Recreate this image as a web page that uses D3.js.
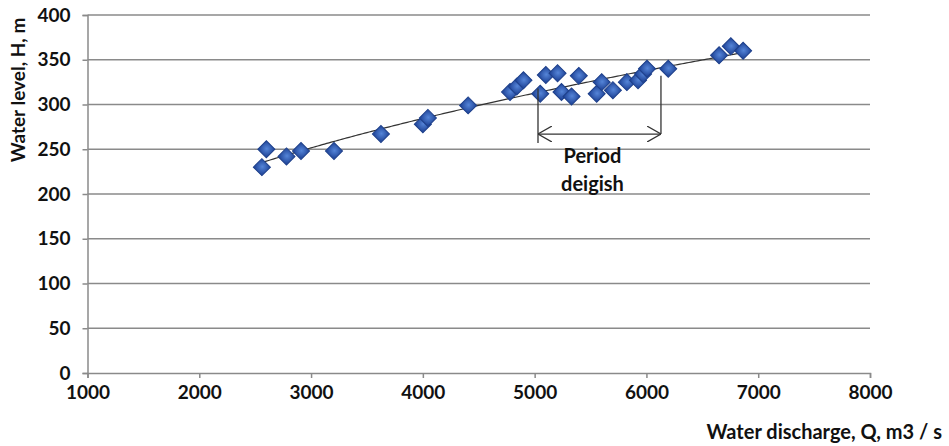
<!DOCTYPE html>
<html>
<head>
<meta charset="utf-8">
<script src="https://cdn.jsdelivr.net/npm/d3@7"></script>
<style>
  html, body { margin: 0; padding: 0; background: #fff; }
  svg { display: block; }
</style>
</head>
<body>
<svg id="chart" width="949" height="446"></svg>
<script>
// ---- data ----
const discharge = [2560, 2600, 2780, 2910, 3205, 3625, 4000, 4045, 4405, 4780, 4840, 4900, 5050, 5100, 5205, 5240, 5330, 5395, 5555, 5600, 5700, 5825, 5925, 5970, 6005, 6195, 6650, 6755, 6865];
const level     = [230, 250, 242, 248, 248, 267, 278, 285, 299, 314, 320, 327, 312, 333, 335, 314, 309, 332, 312, 325, 316, 325, 327, 334, 340, 340, 355, 365, 360];
const xTicks = [1000, 2000, 3000, 4000, 5000, 6000, 7000, 8000];
const yTicks = [0, 50, 100, 150, 200, 250, 300, 350, 400];
const periodBounds = [5030, 6130];          // Q range of "Period deigish"
const periodTops = [318, 332];              // top of left / right marker lines (H)
const periodBottoms = [257, 267];           // bottom of left / right marker lines (H)
const periodArrowLevel = [267];             // H level of double arrow
const periodLabel = ["Period", "deigish"];
const xTitle = "Water discharge, Q, m3 / s";
const yTitle = "Water level, H, m";

(function () {
// ---- layout ----
const svg = d3.select("#chart");
const mLeft = 87.5, mRight = 870, mTop = 15, mBottom = 373;
const x = d3.scaleLinear().domain([1000, 8000]).range([mLeft, mRight]);
const y = d3.scaleLinear().domain([0, 400]).range([mBottom, mTop]);
const gridColor = "#8a8a8a";
const fontFam = "Lato, 'Open Sans', sans-serif";

// gradient for markers
const defs = svg.append("defs");
const grad = defs.append("radialGradient").attr("id", "dg").attr("cx", "50%").attr("cy", "45%").attr("r", "60%");
grad.append("stop").attr("offset", "0%").attr("stop-color", "#5585d8");
grad.append("stop").attr("offset", "100%").attr("stop-color", "#244a9e");
const arrowMarker = (id, orient) => {
  defs.append("marker").attr("id", id).attr("viewBox", "0 0 14 16").attr("refX", 14).attr("refY", 8)
    .attr("markerWidth", 14).attr("markerHeight", 16).attr("markerUnits", "userSpaceOnUse").attr("orient", orient)
    .append("path").attr("d", "M0,0 L14,8 L0,16").attr("fill", "none").attr("stroke", "#333").attr("stroke-width", 1.3);
};
arrowMarker("arrEnd", "auto");
arrowMarker("arrStart", "auto-start-reverse");

// gridlines
svg.append("g").selectAll("line").data(yTicks.filter(d => d > 0)).join("line")
  .attr("x1", mLeft).attr("x2", mRight).attr("y1", d => y(d)).attr("y2", d => y(d))
  .attr("stroke", gridColor).attr("stroke-width", 1.5);

// axes
const xAxis = svg.append("g").attr("transform", `translate(0,${mBottom})`)
  .call(d3.axisBottom(x).tickValues(xTicks).tickSize(5).tickPadding(8).tickFormat(d3.format("d")));
const yAxis = svg.append("g").attr("transform", `translate(${mLeft},0)`)
  .call(d3.axisLeft(y).tickValues(yTicks).tickSize(5).tickPadding(12).tickFormat(d3.format("d")));
[xAxis, yAxis].forEach(g => {
  g.select(".domain").attr("stroke", gridColor).attr("stroke-width", 1.5);
  g.selectAll(".tick line").attr("stroke", gridColor).attr("stroke-width", 1.5);
  g.selectAll(".tick text").attr("fill", "#111").attr("font-family", fontFam)
    .attr("font-weight", "bold").attr("font-size", 19);
});

// trendline: power fit H = a * Q^b (least squares in log-log)
const lx = discharge.map(Math.log), ly = level.map(Math.log);
const mx = d3.mean(lx), my = d3.mean(ly);
const b = d3.sum(lx.map((v, i) => (v - mx) * (ly[i] - my))) / d3.sum(lx.map(v => (v - mx) ** 2));
const a = Math.exp(my - b * mx);
const qExt = d3.extent(discharge);
const trendQ = d3.range(qExt[0], qExt[1] + 1, 20);
svg.append("path").datum(trendQ)
  .attr("d", d3.line().x(q => x(q)).y(q => y(a * Math.pow(q, b))))
  .attr("fill", "none").attr("stroke", "#333").attr("stroke-width", 1.2);

// markers
const pts = discharge.map((q, i) => ({ q, h: level[i] }));
const sym = d3.symbol().type(d3.symbolSquare).size(145);
svg.append("g").selectAll("path").data(pts).join("path")
  .attr("d", sym)
  .attr("transform", d => `translate(${x(d.q)},${y(d.h)}) rotate(45)`)
  .attr("fill", "url(#dg)").attr("stroke", "#1d3f8a").attr("stroke-width", 1);

// period annotation
const ann = svg.append("g").attr("stroke", "#333").attr("stroke-width", 1.3);
periodBounds.forEach((q, i) => {
  ann.append("line").attr("x1", x(q)).attr("x2", x(q))
    .attr("y1", y(periodTops[i])).attr("y2", y(periodBottoms[i]));
});
ann.append("line")
  .attr("x1", x(periodBounds[0])).attr("x2", x(periodBounds[1]))
  .attr("y1", y(periodArrowLevel[0])).attr("y2", y(periodArrowLevel[0]))
  .attr("marker-start", "url(#arrStart)").attr("marker-end", "url(#arrEnd)");
const midQ = d3.mean(periodBounds);
svg.append("g").selectAll("text").data(periodLabel).join("text")
  .attr("x", x(midQ) - 7).attr("y", (d, i) => y(periodArrowLevel[0]) + 29 + i * 28)
  .attr("text-anchor", "middle").attr("font-family", fontFam).attr("font-weight", "bold")
  .attr("font-size", 20).attr("fill", "#111").text(d => d);

// axis titles
svg.append("text").attr("transform", `translate(25,${90}) rotate(-90)`)
  .attr("text-anchor", "middle").attr("font-family", fontFam).attr("font-weight", "bold")
  .attr("font-size", 19).attr("fill", "#111").text(yTitle);
svg.append("text").attr("x", 942).attr("y", 439)
  .attr("text-anchor", "end").attr("font-family", fontFam).attr("font-weight", "bold")
  .attr("font-size", 20).attr("fill", "#111").text(xTitle);
})();
</script>
</body>
</html>
